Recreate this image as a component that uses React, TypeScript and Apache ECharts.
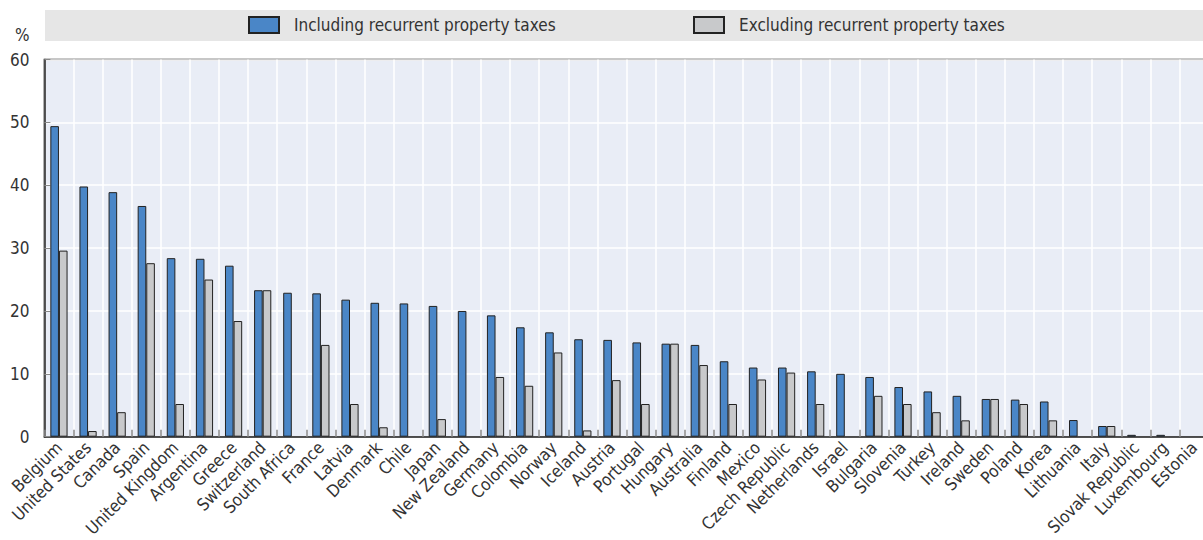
import React, { useEffect, useRef } from "react";
import * as echarts from "echarts";

const categories = [
  "Belgium", "United States", "Canada", "Spain", "United Kingdom", "Argentina", "Greece",
  "Switzerland", "South Africa", "France", "Latvia", "Denmark", "Chile", "Japan",
  "New Zealand", "Germany", "Colombia", "Norway", "Iceland", "Austria", "Portugal",
  "Hungary", "Australia", "Finland", "Mexico", "Czech Republic", "Netherlands", "Israel",
  "Bulgaria", "Slovenia", "Turkey", "Ireland", "Sweden", "Poland", "Korea", "Lithuania",
  "Italy", "Slovak Republic", "Luxembourg", "Estonia",
];

const including: (number | null)[] = [
  49.4, 39.8, 38.9, 36.7, 28.4, 28.3, 27.2, 23.3, 22.9, 22.8, 21.8, 21.3, 21.2, 20.8,
  20.0, 19.3, 17.4, 16.6, 15.5, 15.4, 15.0, 14.8, 14.6, 12.0, 11.0, 11.0, 10.4, 10.0,
  9.5, 7.9, 7.2, 6.5, 6.0, 5.9, 5.6, 2.65, 1.7, 0.3, 0.3, null,
];

const excluding: (number | null)[] = [
  29.6, 0.9, 3.9, 27.6, 5.2, 25.0, 18.4, 23.3, null, 14.6, 5.2, 1.5, null, 2.8,
  null, 9.5, 8.1, 13.4, 1.0, 9.0, 5.2, 14.8, 11.4, 5.2, 9.1, 10.2, 5.2, null,
  6.5, 5.2, 3.9, 2.6, 6.0, 5.2, 2.6, null, 1.7, null, null, null,
];

const seriesNames = ["Including recurrent property taxes", "Excluding recurrent property taxes"];
const yTicks = { min: 0, max: 60, interval: 10 };

const FONT = "'DejaVu Sans Condensed', 'Liberation Sans', sans-serif";

export default function App() {
  const ref = useRef<HTMLDivElement>(null);
  useEffect(() => {
    document.body.style.margin = "0";
    const chart = echarts.init(ref.current!, null, { renderer: "svg" });
    const legendBase = {
      top: 16,
      padding: 0,
      icon: "rect",
      itemWidth: 30,
      itemHeight: 16,
      textStyle: { fontFamily: FONT, fontSize: 17, color: "#333", padding: [0, 0, 0, 10] },
    };
    chart.setOption({
      animation: false,
      textStyle: { fontFamily: FONT },
      graphic: [
        {
          type: "rect",
          shape: { x: 45, y: 10, width: 1170, height: 31 },
          style: { fill: "#e6e6e6" },
          z: -1,
        },
        {
          type: "text",
          x: 15,
          y: 26,
          style: { text: "%", font: `17px ${FONT}`, fill: "#333" },
        },
      ],
      legend: [
        { ...legendBase, data: [seriesNames[0]], left: 248 },
        { ...legendBase, data: [seriesNames[1]], left: 693 },
      ],
      grid: {
        left: 44.4,
        top: 59.5,
        bottom: 103.3,
        right: -5.6,
        show: true,
        backgroundColor: "#e9edf6",
        borderColor: "#222",
        borderWidth: 1.5,
        containLabel: false,
        outerBoundsMode: "none",
      },
      xAxis: {
        type: "category",
        data: categories,
        axisLine: { lineStyle: { color: "#222", width: 1.5 } },
        axisTick: { show: true, inside: true, length: 7, lineStyle: { color: "#888", width: 1.5 } },
        splitLine: { show: true, lineStyle: { color: "#ffffff", width: 1.5 } },
        axisLabel: {
          interval: 0,
          rotate: 45,
          fontSize: 17,
          color: "#333",
          fontFamily: FONT,
          margin: 8,
          hideOverlap: false,
        },
      },
      yAxis: {
        type: "value",
        min: yTicks.min,
        max: yTicks.max,
        interval: yTicks.interval,
        axisLine: { show: true, lineStyle: { color: "#222", width: 1.5 } },
        axisTick: { show: true, inside: true, length: 6, lineStyle: { color: "#888" } },
        splitLine: { show: true, lineStyle: { color: "#ffffff", width: 1.5 } },
        axisLabel: { fontSize: 17, color: "#333", fontFamily: FONT, margin: 15 },
      },
      series: [
        {
          name: seriesNames[0],
          type: "bar",
          data: including,
          barWidth: 8.6,
          barGap: "0%",
          itemStyle: { color: "#4a86c7", borderColor: "#222", borderWidth: 1 },
        },
        {
          name: seriesNames[1],
          type: "bar",
          data: excluding,
          barWidth: 8.6,
          barGap: "0%",
          itemStyle: { color: "#c8c9cb", borderColor: "#222", borderWidth: 1 },
        },
      ],
    });
    return () => chart.dispose();
  }, []);
  return <div ref={ref} style={{ width: 1203, height: 540 }} />;
}
